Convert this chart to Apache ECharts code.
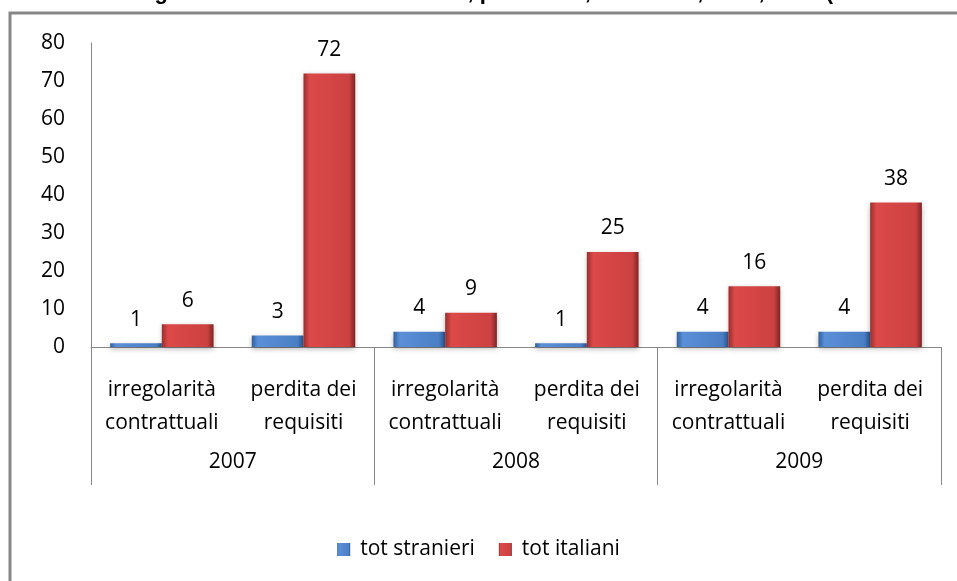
<!DOCTYPE html>
<html>
<head>
<meta charset="utf-8">
<script src="https://cdn.jsdelivr.net/npm/echarts@6/dist/echarts.min.js"></script>
<style>html,body{margin:0;padding:0;background:#fff}#c{width:957px;height:581px}</style>
</head>
<body>
<div id="c"></div>
<script>
const subCategories = ["irregolarità\ncontrattuali", "perdita dei\nrequisiti", "irregolarità\ncontrattuali", "perdita dei\nrequisiti", "irregolarità\ncontrattuali", "perdita dei\nrequisiti"];
const years = ["2007", "2008", "2009"];
const totStranieri = [1, 3, 4, 1, 4, 4];
const totItaliani = [6, 72, 9, 25, 16, 38];
const seriesNames = ["tot stranieri", "tot italiani"];
const titleText = "Grafico: assegnatari in decadenza e revoca, per motivi, anni 2007, 2008, 2009 (valori assoluti)";

const FONT = "Open Sans";
function grad(c0, c1, c2, c3) {
  return new echarts.graphic.LinearGradient(0, 0, 1, 0, [
    {offset: 0, color: c0}, {offset: 0.12, color: c1}, {offset: 0.88, color: c2}, {offset: 1, color: c3}
  ]);
}
const blue = grad('#2f5f9e', '#5b90d8', '#4a7fc6', '#2b5690');
const red = grad('#9a2d2d', '#dc4949', '#cc4141', '#7e2424');

const chart = echarts.init(document.getElementById('c'), null, {renderer: 'canvas'});
chart.setOption({
  animation: false,
  textStyle: {fontFamily: FONT},
  graphic: [
    {type: 'text', left: 15, top: -18, style: {text: titleText, font: 'bold 22px "Liberation Sans", Arial', fill: '#000'}},
    {type: 'rect', shape: {x: 10, y: 13, width: 980, height: 620}, style: {fill: 'none', stroke: '#878787', lineWidth: 3}}
  ],
  grid: {left: 91, right: 16, top: 43, bottom: 234, containLabel: false},
  legend: {
    data: seriesNames, bottom: 16, left: 'center', itemWidth: 13, itemHeight: 13, itemGap: 24, icon: 'rect',
    textStyle: {fontSize: 21, color: '#000', fontFamily: FONT, padding: [0, 0, 0, 5]}
  },
  xAxis: [
    {
      type: 'category', data: subCategories, position: 'bottom',
      axisLine: {show: true, lineStyle: {color: '#888', width: 1}},
      axisTick: {show: false},
      axisLabel: {interval: 0, margin: 27, fontSize: 21, lineHeight: 33, color: '#000', fontFamily: FONT}
    },
    {
      type: 'category', data: years, position: 'bottom', offset: 0,
      axisLine: {show: false},
      axisTick: {show: true, length: 138, lineStyle: {color: '#888', width: 1}},
      axisLabel: {interval: 0, margin: 105, fontSize: 21, color: '#000', fontFamily: FONT}
    }
  ],
  yAxis: {
    type: 'value', min: 0, max: 80, interval: 10,
    axisLine: {show: true, lineStyle: {color: '#888', width: 1}},
    axisTick: {show: false},
    splitLine: {show: false},
    axisLabel: {margin: 26, fontSize: 21, color: '#000', fontFamily: FONT}
  },
  series: [
    {
      name: seriesNames[0], type: 'bar', data: totStranieri, xAxisIndex: 0,
      barGap: 0, barCategoryGap: '27%',
      itemStyle: {color: blue, shadowBlur: 5, shadowColor: 'rgba(0,0,0,0.3)', shadowOffsetY: 2},
      label: {show: true, position: 'top', distance: 13, fontSize: 21, color: '#000', fontFamily: FONT}
    },
    {
      name: seriesNames[1], type: 'bar', data: totItaliani, xAxisIndex: 0,
      barGap: 0, barCategoryGap: '27%',
      itemStyle: {color: red, shadowBlur: 5, shadowColor: 'rgba(0,0,0,0.3)', shadowOffsetY: 2},
      label: {show: true, position: 'top', distance: 13, fontSize: 21, color: '#000', fontFamily: FONT}
    }
  ]
});
</script>
</body>
</html>
